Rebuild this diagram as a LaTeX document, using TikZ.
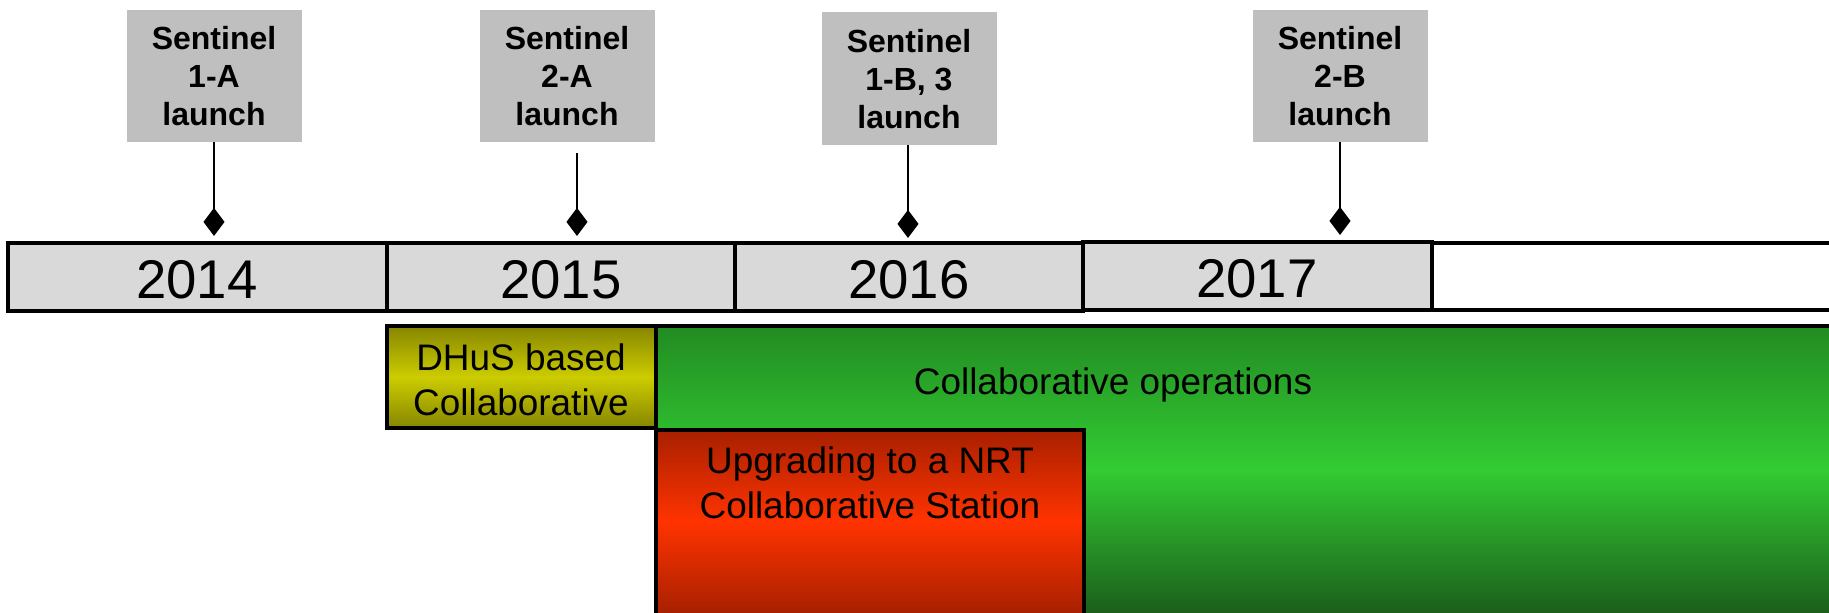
\documentclass[tikz,border=0pt]{standalone}
\usepackage{fontspec}
\setmainfont{Liberation Sans}
\usetikzlibrary{arrows.meta}
\definecolor{yearfill}{HTML}{D9D9D9}
\definecolor{sentfill}{HTML}{BFBFBF}
\definecolor{olivedark}{HTML}{868600}
\definecolor{olivelight}{HTML}{CCCC00}
\definecolor{greendark}{HTML}{228B22}
\definecolor{greenlight}{HTML}{33CC33}
\definecolor{greenbottom}{HTML}{1B5E1B}
\definecolor{reddark}{HTML}{A82000}
\definecolor{redlight}{HTML}{FF3300}
\tikzset{
  yearbox/.style={draw=black, line width=0.9pt, fill=yearfill},
  yeartext/.style={font=\fontsize{15.5pt}{18pt}\selectfont, inner sep=0pt},
  sentbox/.style={fill=sentfill, draw=none},
  senttext/.style={font=\fontsize{9.1pt}{10.8pt}\selectfont\bfseries, align=center, inner sep=0pt},
  bartext/.style={font=\fontsize{10.5pt}{12.8pt}\selectfont, align=center, inner sep=0pt},
  barline/.style={draw=black, line width=0.9pt},
  pin/.style={draw=black, line width=0.8pt, -{Diamond[length=8pt,width=6pt]}}
}
\begin{document}
\begin{tikzpicture}[x=0.01cm, y=-0.01cm]
\useasboundingbox (0,0) rectangle (1829,613);
% year boxes
\draw[yearbox] (8,243) rectangle (387,311);
\draw[yearbox] (387,243) rectangle (735,311);
\draw[yearbox] (735,243) rectangle (1083,311);
\draw[yearbox] (1083,242) rectangle (1432,310);
\draw[draw=black, line width=0.9pt, fill=white] (1432,243) rectangle (1840,310);
\node[yeartext] (y14) at (197,280) {2014};
\node[yeartext] (y15) at (561,280) {2015};
\node[yeartext] (y16) at (909,280) {2016};
\node[yeartext] (y17) at (1257,279) {2017};
% sentinel boxes
\fill[sentfill] (127,10) rectangle (302,142);
\fill[sentfill] (480,10) rectangle (655,142);
\fill[sentfill] (822,12) rectangle (997,145);
\fill[sentfill] (1253,10) rectangle (1428,142);
\node[senttext] (s1a) at (214,76) {Sentinel\\1-A\\launch};
\node[senttext] (s2a) at (567,76) {Sentinel\\2-A\\launch};
\node[senttext] (s1b) at (909,79) {Sentinel\\1-B, 3\\launch};
\node[senttext] (s2b) at (1340,76) {Sentinel\\2-B\\launch};
\coordinate (p1a) at (214,142);
\coordinate (p2a) at (577,153);
\coordinate (p1b) at (908,145);
\coordinate (p2b) at (1340,142);
\coordinate (d1a) at (214,236);
\coordinate (d2a) at (577,236);
\coordinate (d1b) at (908,238);
\coordinate (d2b) at (1340,235);
\draw[pin] (p1a) -- (d1a);
\draw[pin] (p2a) -- (d2a);
\draw[pin] (p1b) -- (d1b);
\draw[pin] (p2b) -- (d2b);
% bars
\shade[top color=greendark, bottom color=greenbottom, middle color=greenlight] (656,326) rectangle (1840,613);
\draw[barline] (1840,326) -- (656,326) -- (656,613);
\shade[top color=olivedark, bottom color=olivedark, middle color=olivelight] (387,326) rectangle (656,428);
\draw[barline] (387,326) rectangle (656,428);
\shade[top color=reddark, bottom color=reddark, middle color=redlight] (656,430) rectangle (1084,613);
\draw[barline] (656,613) -- (656,430) -- (1084,430) -- (1084,613);
\node[bartext] (dhus) at (521,380) {DHuS based\\Collaborative};
\node[bartext] (ops) at (1113,385) {Collaborative operations};
\node[bartext] (nrt) at (870,483) {Upgrading to a NRT\\Collaborative Station};
\end{tikzpicture}
\end{document}
